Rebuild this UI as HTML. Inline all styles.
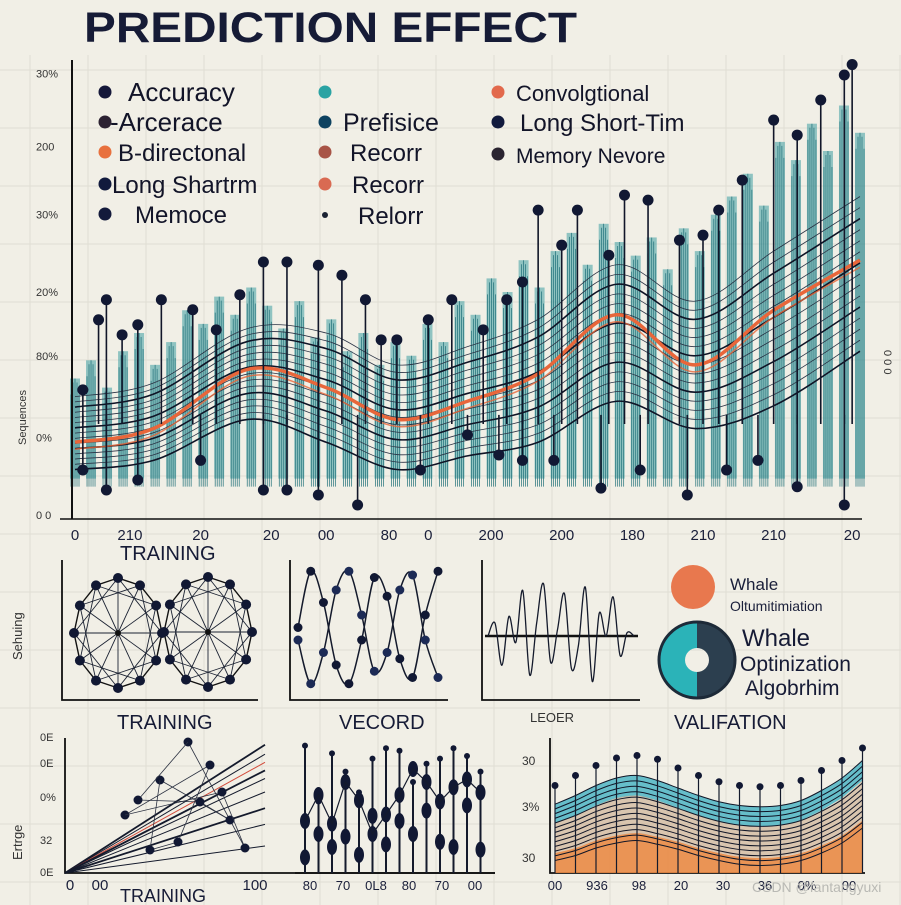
<!DOCTYPE html>
<html><head><meta charset="utf-8"><style>
html,body{margin:0;padding:0;background:#f1efe6;}
svg{display:block;font-family:"Liberation Sans",sans-serif;}
</style></head><body>
<svg id="s" width="901" height="905" viewBox="0 0 901 905" xmlns="http://www.w3.org/2000/svg">
<rect width="901" height="905" fill="#f1efe6"/>
<g id="bggrid" stroke="#e0ded4" stroke-width="1"></g>
<text x="84" y="42" font-size="43" font-weight="bold" fill="#161b36" textLength="493" lengthAdjust="spacingAndGlyphs">PREDICTION EFFECT</text>
<g id="main"></g>
<g id="legend"></g>
<g id="mid"></g>
<g id="bot"></g>
<text x="752" y="892" font-size="14" fill="#b9b9b4">CSDN @fantangyuxi</text>
</svg>
<script>
// ---------- data ----------
const bandCats   = [0,10,22,32,41,50,59,69,79,89,100];
const upperBand  = [26,29,41,40,33,37,43,55,47,58,70];
const orangeLine = [16,19,32,28,21,25,31,44,33,45,56];
const lowerBand  = [10,12,21,16,10,13,16,25,19,24,36];
const tealTops   = [30,34,28,36,40,33,38,45,42,48,44,50,46,41,47,39,43,36,40,33,38,35,42,38,47,44,52,49,56,50,58,62,55,64,60,57,61,54,63,58,66,70,75,68,82,78,86,80,90,84];
const barBase = 8;
const upDotX = [1,3,4,6,8,11,15,18,21,24,27,31,34,37,39,41,45,48,52,55,57,59,62,64,68,70,73,77,80,82,85,89,92,95,98,99];
const upDotY = [27.5,42.9,47.3,39.6,41.8,47.3,45.1,40.7,48.4,55.6,55.6,54.9,52.7,47.3,38.5,38.5,42.9,47.3,40.7,47.3,51.2,67,59.3,67,57.1,70.3,69.2,60.4,61.5,67,73.6,86.8,83.5,91.2,96.7,99];
const lowDotX = [1,4,8,16,24,27,31,36,44,50,54,57,61,67,72,78,83,87,92,98];
const lowDotY = [9.9,5.5,7.7,12,5.5,5.5,4.4,2.2,9.9,17.6,13.2,12,12,5.9,9.9,4.4,9.9,12,6.2,2.2];
const yTickLabels = ["30%","200","30%","20%","80%","0%","0 0"];
const yTickVals = [97,81,66,49,35,17,0];
const xTickLabels = ["0","210","20","20","00","80","0","200","200","180","210","210","20"];
const xTickVals = [0,7,16,25,32,40,45,53,62,71,80,89,99];
// bottom-right validation chart
const valCats  = [0,1,2,3,4,5,6,7,8,9,10,11,12,13,14,15];
const valTeal  = [55,62,70,76,78,74,68,62,57,54,53,54,58,66,76,90];
const valMid   = [40,46,54,60,62,58,52,46,41,38,37,38,42,50,60,74];
const valOrange= [16,20,26,30,32,29,25,20,16,13,12,13,16,22,30,42];
const valDots  = [70,78,86,92,94,91,84,78,73,70,69,70,74,82,90,100];
// bottom-middle record chart
const recCats = [0,1,2,3,4,5,6,7,8,9,10,11,12,13];
const recTop  = [98,55,92,78,62,88,96,94,70,84,88,96,90,78];
const recMid  = [40,60,38,70,56,30,45,60,80,70,55,66,72,62];
const recLow  = [12,30,20,28,14,44,22,40,30,48,24,20,52,18];
// bottom-left training chart
const trEnds = [95,88,82,76,70,60,48,36,20];
// middle wave chart
const waveA = [50,95,70,20,5,40,90,75,25,10,60,95];
const waveB = [40,5,30,80,95,60,15,30,80,92,40,10];
// middle oscillation
const oscVals = [0,20,-45,30,-10,70,-60,20,80,-40,10,65,-50,-15,75,-70,35,0,60,-30,5,0];

// ---------- helpers ----------
const NS="http://www.w3.org/2000/svg";
function mk(tag,attrs,parent){const e=document.createElementNS(NS,tag);for(const k in attrs)e.setAttribute(k,attrs[k]);parent.appendChild(e);return e;}
function smooth(pts){let d="M"+pts[0][0]+","+pts[0][1];for(let i=0;i<pts.length-1;i++){const p0=pts[i-1]||pts[i],p1=pts[i],p2=pts[i+1],p3=pts[i+2]||p2;const c1=[p1[0]+(p2[0]-p0[0])/6,p1[1]+(p2[1]-p0[1])/6],c2=[p2[0]-(p3[0]-p1[0])/6,p2[1]-(p3[1]-p1[1])/6];d+=" C"+c1[0]+","+c1[1]+" "+c2[0]+","+c2[1]+" "+p2[0]+","+p2[1];}return d;}
function txt(parent,x,y,s,size,fill,extra){const t=mk("text",Object.assign({x:x,y:y,"font-size":size,fill:fill||"#1a1f3a"},extra||{}),parent);t.textContent=s;return t;}

// background grid
const gg=document.getElementById("bggrid");
for(let x=30;x<901;x+=58){const l=mk("line",{x1:x,y1:55,x2:x,y2:905},gg);}
for(let y=70;y<905;y+=58){const l=mk("line",{x1:0,y1:y,x2:901,y2:y},gg);}

// ---------- main chart ----------
const M=document.getElementById("main");
const X=v=>75+v*7.85, Y=v=>515-v*4.55;
tealTops.forEach((v,i)=>{const x=X(i*100/(tealTops.length-1));
 const r=mk("rect",{x:x-5,y:Y(v),width:10,height:Y(barBase)-Y(v),fill:"#3e9ea3",opacity:0.55},M);
 
 for(let k=-4;k<=4;k+=2){const l=mk("line",{x1:x+k,y1:Y(v)+(k*k),x2:x+k,y2:Y(barBase)+8,stroke:"#1e6f78","stroke-width":0.7},M);}
});
const nb=14;
for(let j=0;j<=nb;j++){const t=j/nb;const pts=bandCats.map((c,i)=>[X(c),Y(lowerBand[i]+(upperBand[i]-lowerBand[i])*t)]);
 const p=mk("path",{d:smooth(pts),fill:"none",stroke:(j%4==0)?"#0f1426":"#2a3345","stroke-width":(j%4==0)?1.6:0.8},M);
 }
{const pts=bandCats.map((c,i)=>[X(c),Y(orangeLine[i])]);
 const p=mk("path",{d:smooth(pts),fill:"none",stroke:"#e8663a","stroke-width":3.5},M);
 const p2=mk("path",{d:smooth(pts.map(q=>[q[0],q[1]+7])),fill:"none",stroke:"#e8663a","stroke-width":1.5,opacity:0.8},M);}
upDotX.forEach((c,i)=>{const x=X(c),y=Y(upDotY[i]);
 const l=mk("line",{x1:x,y1:y,x2:x,y2:Y(20),stroke:"#111629","stroke-width":1.6},M);
 const d=mk("circle",{cx:x,cy:y,r:5.5,fill:"#111833"},M);});
lowDotX.forEach((c,i)=>{const x=X(c),y=Y(lowDotY[i]);
 const l=mk("line",{x1:x,y1:y,x2:x,y2:Y(22),stroke:"#111629","stroke-width":1.6},M);
 const d=mk("circle",{cx:x,cy:y,r:5.5,fill:"#111833"},M);});
{const a=mk("line",{x1:72,y1:60,x2:72,y2:519,stroke:"#111","stroke-width":2},M);
 const b=mk("line",{x1:60,y1:519,x2:862,y2:519,stroke:"#111","stroke-width":1.5},M);}
yTickLabels.forEach((s,i)=>{const t=txt(M,36,Y(yTickVals[i])+4,s,11,"#333");});
xTickLabels.forEach((s,i)=>{const t=txt(M,X(xTickVals[i]),540,s,15,"#1a1f3a",{"text-anchor":"middle"});});
{const t=txt(M,0,0,"Sequences",11,"#333",{transform:"translate(26,445) rotate(-90)"});
 const t2=txt(M,0,0,"0 0 0",11,"#333",{transform:"translate(884,350) rotate(90)"});}

// ---------- legend ----------
const L=document.getElementById("legend");
const legItems=[
 [105,92,"#15183a","Accuracy",128,26],[105,122,"#2c2232","-Arcerace",110,26],[105,152,"#e8713e","B-directonal",118,24],[105,184,"#111a3d","Long Shartrm",112,24],[105,214,"#131a3b","Memoce",135,24],
 [325,92,"#2aa3a3","",0,0],[325,122,"#0d4260","Prefisice",343,25],[325,152,"#a85446","Recorr",350,24],[325,184,"#d96a52","Recorr",352,24],[325,215,"#1a2233","Relorr",358,24],
 [498,92,"#e2694c","Convolgtional",516,22],[498,122,"#111a3d","Long Short-Tim",520,24],[498,154,"#2a2430","Memory Nevore",516,21]];
legItems.forEach(it=>{const c=mk("circle",{cx:it[0],cy:it[1],r:it[0]==325&&it[1]==215?3:6.5,fill:it[2]},L);
 if(it[3]){const t=txt(L,it[4],it[1]+9,it[3],it[5],"#121428");}});

// ---------- middle panels ----------
const D=document.getElementById("mid");
{const t=txt(D,120,560,"TRAINING",20,"#161b36");
 const t2=txt(D,0,0,"Sehuing",13,"#333",{transform:"translate(22,660) rotate(-90)"});}
function panelAxes(g,x0,y0,x1,y1,name){const a=mk("path",{d:`M${x0},${y0} L${x0},${y1} L${x1},${y1}`,fill:"none",stroke:"#111","stroke-width":1.8},g);}
panelAxes(D,62,560,258,700,"network-panel-axes");
[[118,633],[208,632]].forEach(cen=>{const nodes=[];for(let k=0;k<12;k++){const a=k/12*Math.PI*2;nodes.push([cen[0]+Math.cos(a)*44,cen[1]+Math.sin(a)*55]);}
 nodes.forEach((n,i)=>{const l=mk("line",{x1:cen[0],y1:cen[1],x2:n[0],y2:n[1],stroke:"#1c2333","stroke-width":0.9},D);
  const m=nodes[(i+3)%12];const l2=mk("line",{x1:n[0],y1:n[1],x2:m[0],y2:m[1],stroke:"#1c2333","stroke-width":0.9},D);
  const nx=nodes[(i+1)%12];const l3=mk("line",{x1:n[0],y1:n[1],x2:nx[0],y2:nx[1],stroke:"#111","stroke-width":1.4},D);});
 nodes.forEach(n=>{const c=mk("circle",{cx:n[0],cy:n[1],r:5,fill:"#111833"},D);});
 const c=mk("circle",{cx:cen[0],cy:cen[1],r:3,fill:"#111"},D);});
panelAxes(D,290,560,448,700,"wave-panel-axes");
[waveA,waveB].forEach((arr,si)=>{const pts=arr.map((v,i)=>[298+i*(140/(arr.length-1)),690-v*1.25]);
 const p=mk("path",{d:smooth(pts),fill:"none",stroke:"#141a2c","stroke-width":1.5},D);
 pts.forEach(q=>{const c=mk("circle",{cx:q[0],cy:q[1],r:4.5,fill:si?"#1c2a55":"#111833"},D);});});
panelAxes(D,482,560,640,700,"oscillation-panel-axes");
{const b=mk("line",{x1:485,y1:636,x2:638,y2:636,stroke:"#111","stroke-width":2.5},D);
 const pts=oscVals.map((v,i)=>[488+i*(146/(oscVals.length-1)),636-v*0.65]);
 const p=mk("path",{d:smooth(pts),fill:"none",stroke:"#141a2c","stroke-width":1.3},D);
 const t=txt(D,530,722,"LEOER",13,"#333");}
{const c=mk("circle",{cx:693,cy:587,r:22,fill:"#e8784e"},D);
 txt(D,730,590,"Whale",17,"#1a1f3a");
 txt(D,730,611,"Oltumitimiation",14,"#1a1f3a");
 const r=38,ri=12,cx=697,cy=660;
 const p1=mk("path",{d:`M${cx},${cy-r} A${r},${r} 0 0 0 ${cx},${cy+r} L${cx},${cy+ri} A${ri},${ri} 0 0 1 ${cx},${cy-ri} Z`,fill:"#2bb3b8"},D);
 const p2=mk("path",{d:`M${cx},${cy-r} A${r},${r} 0 0 1 ${cx},${cy+r} L${cx},${cy+ri} A${ri},${ri} 0 0 0 ${cx},${cy-ri} Z`,fill:"#2c3f4f"},D);
 const c2=mk("circle",{cx:cx,cy:cy,r:r,fill:"none",stroke:"#1d2a38","stroke-width":3},D);
 txt(D,742,646,"Whale",24,"#161b36");
 txt(D,740,671,"Optinization",21,"#161b36");
 txt(D,745,695,"Algobrhim",21,"#161b36");}

// ---------- bottom panels ----------
const B=document.getElementById("bot");
txt(B,117,729,"TRAINING",20,"#161b36");
txt(B,339,729,"VECORD",20,"#161b36");
txt(B,674,729,"VALIFATION",20,"#161b36");
txt(B,120,902,"TRAINING",18,"#161b36");
{const a=mk("path",{d:"M65,738 L65,873 L495,873",fill:"none",stroke:"#111","stroke-width":1.8},B);
 ["0E","0E","0%","32","0E"].forEach((s,i)=>{const t=txt(B,40,[737,763,797,840,872][i]+4,s,11,"#333");});
 trEnds.forEach((v,i)=>{const l=mk("line",{x1:65,y1:873,x2:265,y2:873-v*1.35,stroke:i==2?"#d24a3a":"#141a2c","stroke-width":i%3==0?1.8:1},B);});
 const nd=[[125,815],[160,780],[188,742],[210,765],[230,820],[245,848],[178,842],[200,802],[222,792],[150,850],[138,800]];
 nd.forEach((q,i)=>{const m=nd[(i+3)%nd.length];const l=mk("line",{x1:q[0],y1:q[1],x2:m[0],y2:m[1],stroke:"#2a3040","stroke-width":0.8},B);
  const c=mk("circle",{cx:q[0],cy:q[1],r:4.5,fill:"#111833"},B);});
 [["0",70],["00",100],["100",255]].forEach(q=>{const t=txt(B,q[1],890,q[0],15,"#1a1f3a",{"text-anchor":"middle"});});
 const t=txt(B,0,0,"Ertrge",13,"#333",{transform:"translate(22,860) rotate(-90)"});}
{const RX=i=>305+i*13.5,RY=v=>873-v*1.3;
 const a=mk("line",{x1:295,y1:873,x2:495,y2:873,stroke:"#111","stroke-width":1.8},B);
 recCats.forEach((c,i)=>{const x=RX(c);const l=mk("line",{x1:x,y1:RY(recTop[i]),x2:x,y2:873,stroke:"#141a2c","stroke-width":2},B);
  [recTop[i],recMid[i],recLow[i]].forEach((v,k)=>{const e=mk("ellipse",{cx:x,cy:RY(v),rx:k?5:3,ry:k?8:3,fill:"#111833"},B);});});
 const pts=recCats.map((c,i)=>[RX(c),RY(recMid[i])]);const p=mk("path",{d:"M"+pts.map(q=>q.join(",")).join(" L"),fill:"none",stroke:"#141a2c","stroke-width":1.2},B);
 ["80","70","0L8","80","70","00"].forEach((s,i)=>{const t=txt(B,310+i*33,890,s,13,"#1a1f3a",{"text-anchor":"middle"});});}
{const VX=c=>555+c*20.5,VY=v=>873-v*1.25;
 const a=mk("path",{d:"M550,738 L550,873 L865,873",fill:"none",stroke:"#111","stroke-width":1.8},B);
 const top=valCats.map((c,i)=>[VX(c),VY(valTeal[i])]),mid=valCats.map((c,i)=>[VX(c),VY(valMid[i])]),low=valCats.map((c,i)=>[VX(c),VY(valOrange[i])]);
 const rev=a=>a.slice().reverse();
 const tb=mk("path",{d:smooth(top)+" L"+rev(mid).map(q=>q.join(",")).join(" L")+"Z",fill:"#4db5c4",opacity:0.85},B);
 const ob=mk("path",{d:smooth(low)+` L${VX(15)},873 L${VX(0)},873 Z`,fill:"#e98a45",opacity:0.9},B);
 const mb=mk("path",{d:smooth(mid)+" L"+rev(low).map(q=>q.join(",")).join(" L")+"Z",fill:"#c9a98a",opacity:0.6},B);
 for(let j=0;j<=12;j++){const t=j/12;const pts=valCats.map((c,i)=>[VX(c),VY(valOrange[i]-6+(valTeal[i]-valOrange[i]+6)*t)]);
  const p=mk("path",{d:smooth(pts),fill:"none",stroke:"#111627","stroke-width":1},B);}
 valCats.forEach((c,i)=>{const x=VX(c);const l=mk("line",{x1:x,y1:VY(valDots[i]),x2:x,y2:873,stroke:"#141a2c","stroke-width":1.2},B);
  const d=mk("circle",{cx:x,cy:VY(valDots[i]),r:3.5,fill:"#111833"},B);});
 ["30","3%","30"].forEach((s,i)=>{const t=txt(B,522,[765,811,862][i],s,12,"#333");});
 ["00","936","98","20","30","36","0%","00"].forEach((s,i)=>{const t=txt(B,555+i*42,890,s,13,"#1a1f3a",{"text-anchor":"middle"});});}
</script>
</body></html>
